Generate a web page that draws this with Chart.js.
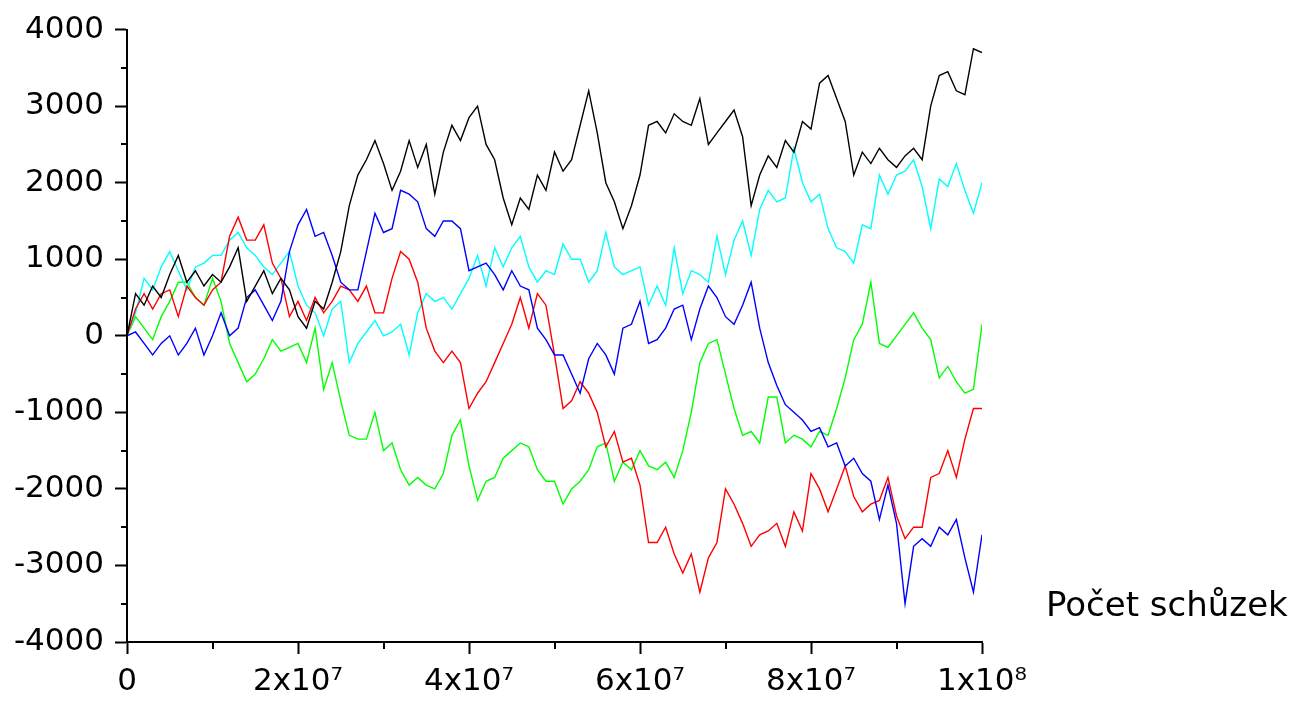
<!DOCTYPE html>
<html>
<head>
<meta charset="utf-8">
<script src="https://cdn.jsdelivr.net/npm/chart.js@4.4.1/dist/chart.umd.min.js"></script>
<style>
html,body{margin:0;padding:0;background:#fff;}
#wrap{width:1295px;height:704px;position:relative;}
</style>
</head>
<body>
<div id="wrap"><canvas id="c" width="1295" height="704"></canvas></div>
<script>
// sample positions (millions of meetings) -> x values
const stepsMillions = Array.from({length: 101}, (_, i) => i);

const black = [0,550,400,650,500,800,1050,700,850,650,800,700,900,1150,450,650,850,550,750,600,
  250,100,450,350,700,1100,1700,2100,2300,2550,2250,1900,2150,2550,2200,2500,1850,2400,2750,2550,
  2850,3000,2500,2300,1800,1450,1800,1650,2100,1900,2400,2150,2300,2750,3200,2650,2000,1750,1400,1700,
  2100,2750,2800,2650,2900,2800,2750,3100,2500,2650,2800,2950,2600,1700,2100,2350,2200,2550,2400,2800,
  2700,3300,3400,3100,2800,2100,2400,2250,2450,2300,2200,2350,2450,2300,3000,3400,3450,3200,3150,3750,3700];

const cyan = [0,300,750,600,900,1100,850,600,900,950,1050,1050,1250,1350,1150,1050,900,800,950,1100,
  650,400,300,0,350,450,-350,-100,50,200,0,50,150,-250,300,550,450,500,350,550,
  750,1050,650,1150,900,1150,1300,900,700,850,800,1200,1000,1000,700,850,1350,900,800,850,
  900,400,650,400,1150,550,850,800,700,1300,800,1250,1500,1050,1650,1900,1750,1800,2450,2000,
  1750,1850,1400,1150,1100,950,1450,1400,2100,1850,2100,2150,2300,1950,1400,2050,1950,2250,1900,1600,2000];

const blue = [0,50,-100,-250,-100,0,-250,-100,100,-250,0,300,0,100,500,600,400,200,450,1100,
  1450,1650,1300,1350,1050,700,600,600,1100,1600,1350,1400,1900,1850,1750,1400,1300,1500,1500,1400,
  850,900,950,800,600,850,650,600,100,-50,-250,-250,-500,-750,-300,-100,-250,-500,100,150,
  450,-100,-50,100,350,400,-50,350,650,500,250,150,400,700,100,-350,-650,-900,-1000,-1100,
  -1250,-1200,-1450,-1400,-1700,-1600,-1800,-1900,-2400,-1950,-2450,-3500,-2750,-2650,-2750,-2500,-2600,-2400,-2900,-3350,-2600];

const red = [0,350,550,350,550,600,250,650,500,400,600,700,1300,1550,1250,1250,1450,950,750,250,
  450,200,500,300,450,650,600,450,650,300,300,750,1100,1000,700,100,-200,-350,-200,-350,
  -950,-750,-600,-350,-100,150,500,100,550,400,-250,-950,-850,-600,-750,-1000,-1450,-1250,-1650,-1600,
  -1950,-2700,-2700,-2500,-2850,-3100,-2850,-3350,-2900,-2700,-2000,-2200,-2450,-2750,-2600,-2550,-2450,-2750,-2300,-2550,
  -1800,-2000,-2300,-2000,-1700,-2100,-2300,-2200,-2150,-1850,-2350,-2650,-2500,-2500,-1850,-1800,-1500,-1850,-1350,-950,-950];

const green = [0,250,100,-50,250,450,700,700,500,400,750,450,-100,-350,-600,-500,-300,-50,-200,-150,
  -100,-350,100,-700,-350,-850,-1300,-1350,-1350,-1000,-1500,-1400,-1750,-1950,-1850,-1950,-2000,-1800,-1300,-1100,
  -1700,-2150,-1900,-1850,-1600,-1500,-1400,-1450,-1750,-1900,-1900,-2200,-2000,-1900,-1750,-1450,-1400,-1900,-1650,-1750,
  -1500,-1700,-1750,-1650,-1850,-1500,-1000,-350,-100,-50,-500,-950,-1300,-1250,-1400,-800,-800,-1400,-1300,-1350,
  -1450,-1250,-1300,-950,-550,-50,150,700,-100,-150,0,150,300,100,-50,-550,-400,-600,-750,-700,150];

const yTickValues = [-4000,-3000,-2000,-1000,0,1000,2000,3000,4000];
const yMinorTicks = [-3500,-2500,-1500,-500,500,1500,2500,3500];
const xTickValues = [0,2e7,4e7,6e7,8e7,1e8];
const xTickLabels = ['0','2x10\u2077','4x10\u2077','6x10\u2077','8x10\u2077','1x10\u2078'];
const xMinorTicks = [1e7,3e7,5e7,7e7,9e7];
const xAxisTitle = 'Počet schůzek';

const seriesList = [
  {name:'black', values:black, color:'#000000'},
  {name:'blue', values:blue, color:'#0000ff'},
  {name:'red', values:red, color:'#ff0000'},
  {name:'cyan', values:cyan, color:'#00ffff'},
  {name:'green', values:green, color:'#00ff00'}
];

const datasets = seriesList.map(s => ({
  label: s.name,
  data: s.values.map((v, i) => ({x: stepsMillions[i] * 1e6, y: v})),
  borderColor: s.color,
  backgroundColor: s.color,
  borderWidth: 1.4,
  pointRadius: 0,
  tension: 0,
  fill: false
}));

const FONT = 'DejaVu Sans';

const decorPlugin = {
  id: 'decor',
  afterDraw(chart) {
    const ctx = chart.ctx;
    const xs = chart.scales.x, ys = chart.scales.y;
    const area = chart.chartArea;
    ctx.save();
    ctx.strokeStyle = '#000';
    ctx.lineWidth = 2;
    ctx.beginPath();
    yMinorTicks.forEach(v => {
      const py = Math.round(ys.getPixelForValue(v));
      ctx.moveTo(area.left, py);
      ctx.lineTo(area.left - 6, py);
    });
    xMinorTicks.forEach(v => {
      const px = Math.round(xs.getPixelForValue(v));
      ctx.moveTo(px, area.bottom);
      ctx.lineTo(px, area.bottom + 7);
    });
    ctx.stroke();
    ctx.fillStyle = '#000';
    ctx.font = '34px "' + FONT + '"';
    ctx.textAlign = 'left';
    ctx.textBaseline = 'middle';
    ctx.fillText(xAxisTitle, 1046, 607);
    ctx.restore();
  }
};

new Chart(document.getElementById('c'), {
  type: 'line',
  data: {datasets},
  options: {
    responsive: false,
    animation: false,
    devicePixelRatio: 1,
    layout: {padding: {top: 27, right: 313, left: 0, bottom: 0}},
    plugins: {legend: {display: false}, tooltip: {enabled: false}},
    scales: {
      x: {
        type: 'linear',
        min: 0, max: 1e8,
        afterBuildTicks: s => { s.ticks = xTickValues.map(v => ({value: v})); },
        afterFit: s => { s.height = 62; },
        ticks: {
          autoSkip: false, maxRotation: 0, padding: 9, color: '#000',
          font: {family: FONT, size: 31},
          callback: (v) => { const i = xTickValues.indexOf(v); return i >= 0 ? xTickLabels[i] : ''; }
        },
        grid: {drawOnChartArea: false, drawTicks: true, tickLength: 12, tickWidth: 2, tickColor: '#000'},
        border: {display: true, color: '#000', width: 2}
      },
      y: {
        type: 'linear',
        min: -4000, max: 4000,
        afterBuildTicks: s => { s.ticks = yTickValues.map(v => ({value: v})); },
        afterFit: s => { s.width = 127; },
        ticks: {
          autoSkip: false, padding: 11, color: '#000',
          font: {family: FONT, size: 31},
          callback: (v) => String(v)
        },
        grid: {drawOnChartArea: false, drawTicks: true, tickLength: 12, tickWidth: 2, tickColor: '#000'},
        border: {display: true, color: '#000', width: 2}
      }
    }
  },
  plugins: [decorPlugin]
});
</script>
</body>
</html>
